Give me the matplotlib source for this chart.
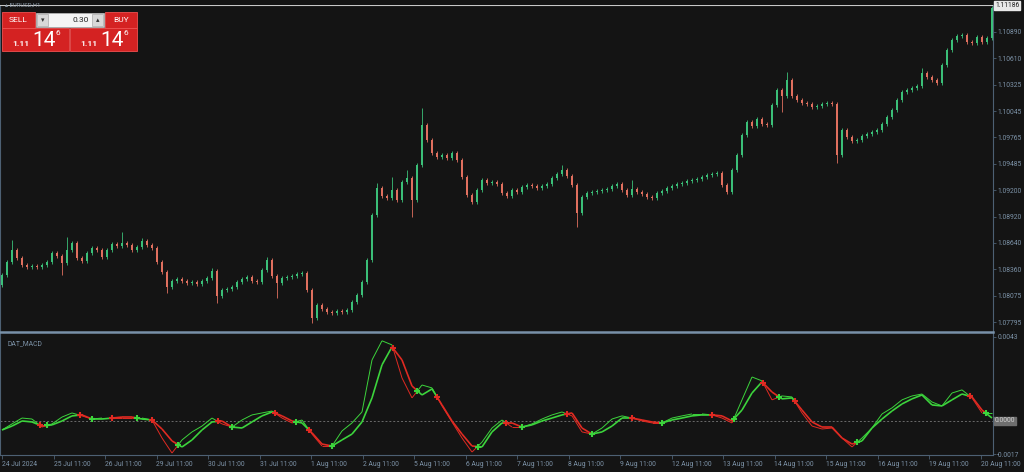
import numpy as np
import matplotlib
matplotlib.use("Agg")
import matplotlib.pyplot as plt
from matplotlib.patches import Rectangle
from matplotlib.collections import LineCollection

# ---- price data (one candle every ~5 px of the original) ----
first_open = 1.08190
closes = [
	1.08297, 1.08436, 1.08564, 1.08478, 1.08403, 1.08382, 1.08393, 1.08382, 1.08403, 1.08436,
	1.08532, 1.08500, 1.08425, 1.08564, 1.08638, 1.08478, 1.08446, 1.08532, 1.08585, 1.08564,
	1.08489, 1.08564, 1.08628, 1.08606, 1.08638, 1.08617, 1.08564, 1.08596, 1.08660, 1.08617,
	1.08585, 1.08436, 1.08329, 1.08169, 1.08233, 1.08254, 1.08233, 1.08211, 1.08222, 1.08201,
	1.08233, 1.08265, 1.08339, 1.08073, 1.08137, 1.08147, 1.08169, 1.08222, 1.08254, 1.08275,
	1.08233, 1.08222, 1.08350, 1.08457, 1.08286, 1.08211, 1.08265, 1.08275, 1.08286, 1.08307,
	1.08318, 1.08137, 1.07838, 1.07977, 1.07934, 1.07902, 1.07891, 1.07913, 1.07902, 1.07923,
	1.08009, 1.08083, 1.08222, 1.08457, 1.08937, 1.09225, 1.09140, 1.09118, 1.09204, 1.09097,
	1.09289, 1.09332, 1.09097, 1.09470, 1.09897, 1.09737, 1.09599, 1.09556, 1.09577, 1.09545,
	1.09599, 1.09524, 1.09342, 1.09150, 1.09076, 1.09204, 1.09310, 1.09278, 1.09289, 1.09268,
	1.09172, 1.09140, 1.09204, 1.09182, 1.09236, 1.09257, 1.09246, 1.09225, 1.09246, 1.09268,
	1.09332, 1.09374, 1.09417, 1.09353, 1.09257, 1.08958, 1.09129, 1.09172, 1.09182, 1.09193,
	1.09204, 1.09214, 1.09246, 1.09268, 1.09204, 1.09150, 1.09214, 1.09182, 1.09161, 1.09129,
	1.09118, 1.09172, 1.09193, 1.09225, 1.09246, 1.09268, 1.09278, 1.09300, 1.09310, 1.09321,
	1.09342, 1.09364, 1.09374, 1.09385, 1.09257, 1.09182, 1.09417, 1.09577, 1.09791, 1.09929,
	1.09887, 1.09961, 1.09908, 1.09897, 1.10111, 1.10271, 1.10207, 1.10377, 1.10207, 1.10164,
	1.10132, 1.10121, 1.10089, 1.10100, 1.10121, 1.10132, 1.10121, 1.09577, 1.09844, 1.09769,
	1.09727, 1.09737, 1.09780, 1.09801, 1.09823, 1.09844, 1.09908, 1.09983, 1.10057, 1.10164,
	1.10249, 1.10271, 1.10292, 1.10313, 1.10452, 1.10409, 1.10377, 1.10345, 1.10537, 1.10698,
	1.10804, 1.10847, 1.10858, 1.10783, 1.10772, 1.10836, 1.10783, 1.10826, 1.11146,
]
# long wicks that stick out of the bodies
spike_high = {2: 1.08670, 13: 1.08702, 24: 1.08756, 28: 1.08692, 42: 1.08371, 53: 1.08489,
	75: 1.09278, 78: 1.09342, 81: 1.09417, 84: 1.10079, 112: 1.09470, 126: 1.09310,
	157: 1.10463, 184: 1.10505}
spike_low = {12: 1.08297, 33: 1.08105, 43: 1.07998, 55: 1.08051, 62: 1.07785, 82: 1.08916,
	115: 1.08809, 156: 1.10036, 167: 1.09492}
bid_price = 1.11186

# ---- DAT_MACD (one value every second candle) ----
macd_main = [
	-0.00046, -0.00015, 0.00015, 0.00010, -0.00031, -0.00015, 0.00020, 0.00041, 0.00026, 0.00010,
	0.00015, 0.00015, 0.00015, 0.00015, 0.00015, 0.00005, -0.00087, -0.00164, -0.00097, -0.00056,
	-0.00026, 0.00015, -0.00015, -0.00031, 0.00005, 0.00031, 0.00041, 0.00051, 0.00015, -0.00010,
	0.00005, -0.00067, -0.00128, -0.00128, -0.00051, -0.00010, 0.00046, 0.00312, 0.00410, 0.00389,
	0.00220, 0.00118, 0.00184, 0.00169, 0.00077, -0.00005, -0.00087, -0.00159, -0.00108, -0.00036,
	0.00005, -0.00031, -0.00031, -0.00015, 0.00010, 0.00031, 0.00046, 0.00026, -0.00056, -0.00067,
	-0.00036, 0.00010, 0.00026, 0.00015, 0.00000, -0.00010, -0.00010, 0.00015, 0.00026, 0.00036,
	0.00036, 0.00031, 0.00015, -0.00010, 0.00108, 0.00225, 0.00205, 0.00108, 0.00128, 0.00123,
	0.00041, -0.00026, -0.00041, -0.00036, -0.00087, -0.00133, -0.00087, -0.00036, 0.00036, 0.00067,
	0.00108, 0.00128, 0.00138, 0.00097, 0.00077, 0.00143, 0.00159, 0.00118, 0.00041, 0.00041,
]
macd_signal = [
	-0.00046, -0.00026, 0.00000, -0.00005, -0.00026, -0.00020, 0.00000, 0.00026, 0.00031, 0.00010,
	0.00010, 0.00015, 0.00020, 0.00020, 0.00010, 0.00005, -0.00041, -0.00102, -0.00133, -0.00097,
	-0.00046, -0.00005, 0.00000, -0.00031, -0.00036, -0.00005, 0.00026, 0.00046, 0.00026, 0.00000,
	-0.00010, -0.00061, -0.00118, -0.00128, -0.00097, -0.00067, -0.00005, 0.00118, 0.00287, 0.00379,
	0.00312, 0.00179, 0.00133, 0.00164, 0.00082, 0.00000, -0.00067, -0.00128, -0.00133, -0.00056,
	-0.00010, -0.00010, -0.00031, -0.00020, 0.00000, 0.00015, 0.00031, 0.00041, -0.00036, -0.00067,
	-0.00056, -0.00026, 0.00015, 0.00015, 0.00005, -0.00005, -0.00010, 0.00005, 0.00015, 0.00026,
	0.00031, 0.00031, 0.00026, 0.00000, 0.00056, 0.00143, 0.00200, 0.00148, 0.00113, 0.00118,
	0.00056, -0.00005, -0.00031, -0.00031, -0.00087, -0.00118, -0.00102, -0.00036, 0.00010, 0.00051,
	0.00087, 0.00113, 0.00133, 0.00082, 0.00077, 0.00108, 0.00138, 0.00123, 0.00056, 0.00015,
]

price_ticks = [1.10890, 1.10610, 1.10325, 1.10045, 1.09765, 1.09485, 1.09200,
	1.08920, 1.08640, 1.08360, 1.08075, 1.07795]
macd_ticks = [0.0043, -0.0017]
date_labels = ["24 Jul 2024", "25 Jul 11:00", "26 Jul 11:00", "29 Jul 11:00", "30 Jul 11:00",
	"31 Jul 11:00", "1 Aug 11:00", "2 Aug 11:00", "5 Aug 11:00", "6 Aug 11:00",
	"7 Aug 11:00", "8 Aug 11:00", "9 Aug 11:00", "12 Aug 11:00", "13 Aug 11:00",
	"14 Aug 11:00", "15 Aug 11:00", "16 Aug 11:00", "19 Aug 11:00", "20 Aug 11:00"]
candles_per_day = 10.3

BG = "#141414"
AXC = "#4d6073"
TXT = "#7d93a8"
UP = "#3bbf78"
DOWN = "#e0705f"
GREEN = "#3cd43c"
RED = "#e02a22"
FONT = ["Roboto", "DejaVu Sans"]
FS = 4.9

W, H = 1024, 472
fig = plt.figure(figsize=(W / 100, H / 100), dpi=100, facecolor=BG)

def px_axes(left, top, right, bottom):
	return fig.add_axes([left / W, 1 - bottom / H, (right - left) / W, (bottom - top) / H])

ax = px_axes(0, 5, 993, 332)
ax2 = px_axes(0, 332, 993, 455)

for a in (ax, ax2):
	a.set_facecolor(BG)
	for s in a.spines.values():
		s.set_color(AXC)
	a.spines['top'].set_visible(False)
	a.yaxis.tick_right()
	a.tick_params(axis='y', colors=AXC, labelcolor=TXT, labelsize=FS, length=2, width=0.6, pad=1)
	for lab in a.get_yticklabels():
		lab.set_fontfamily(FONT)

ax.spines['bottom'].set_visible(False)
ax2.spines['top'].set_visible(True)
ax2.spines['top'].set_color("#7890a8")
ax2.spines['top'].set_linewidth(1.8)

# ---- candles ----
c = np.array(closes)
o = np.concatenate([[first_open], c[:-1]])
n = len(c)
idx = np.arange(n)
hi = np.maximum(o, c) + 0.00025
lo = np.minimum(o, c) - 0.00025
for k, v in spike_high.items():
	hi[k] = max(hi[k], v)
for k, v in spike_low.items():
	lo[k] = min(lo[k], v)
cols = np.where(c >= o, UP, DOWN)
body = np.maximum(np.abs(c - o), 0.00004)
ax.vlines(idx, lo, hi, colors=cols, linewidth=0.6, zorder=2)
ax.bar(idx, body, bottom=np.minimum(o, c), width=0.42, color=cols, linewidth=0, zorder=3)

y_top = 1.11178
ax.set_xlim(-0.4, 198.2)
ax.set_ylim(1.07689, y_top)
ax.set_yticks(price_ticks)
ax.set_yticklabels(["%.5f" % p for p in price_ticks])
ax.set_xticks([])
ax.axhline(y_top - 0.00004, color="#c8c8c8", linewidth=0.8, zorder=4)
ax.text(1.002, y_top - 0.00004, "%.5f" % bid_price, transform=ax.get_yaxis_transform(),
	ha='left', va='center', fontsize=FS, family=FONT, color="#202020",
	bbox=dict(boxstyle='square,pad=0.12', fc="#e8e8e8", ec="#e8e8e8"), clip_on=False)

# ---- MACD panel ----
mx = np.arange(0, n, 2)[:len(macd_main)].astype(float)
m = np.array(macd_main)
s = np.array(macd_signal)
d = m - s

segs_m, segs_s, seg_cols = [], [], []
buy_pts, sell_pts = [], []
state = 1 if d[0] >= 0 else -1
for i in range(len(mx) - 1):
	x0, x1 = mx[i], mx[i + 1]
	nxt = state if d[i + 1] == 0 else (1 if d[i + 1] > 0 else -1)
	if nxt != state and d[i] != d[i + 1]:
		t = d[i] / (d[i] - d[i + 1])
		t = min(max(t, 0), 1)
		xc = x0 + t * (x1 - x0)
		mc = m[i] + t * (m[i + 1] - m[i])
		sc = s[i] + t * (s[i + 1] - s[i])
		segs_m.append([(x0, m[i]), (xc, mc)])
		segs_s.append([(x0, s[i]), (xc, sc)])
		seg_cols.append(GREEN if state > 0 else RED)
		segs_m.append([(xc, mc), (x1, m[i + 1])])
		segs_s.append([(xc, sc), (x1, s[i + 1])])
		seg_cols.append(GREEN if nxt > 0 else RED)
		(buy_pts if nxt > 0 else sell_pts).append((xc, sc))
	else:
		segs_m.append([(x0, m[i]), (x1, m[i + 1])])
		segs_s.append([(x0, s[i]), (x1, s[i + 1])])
		seg_cols.append(GREEN if state > 0 else RED)
	state = nxt

ax2.add_collection(LineCollection(segs_m, colors=seg_cols, linewidths=0.7, zorder=3))
ax2.add_collection(LineCollection(segs_s, colors=seg_cols, linewidths=1.2, zorder=3))
if buy_pts:
	bx, by = zip(*buy_pts)
	ax2.plot(bx, by, '+', color=GREEN, markersize=5, markeredgewidth=1.5, zorder=4)
if sell_pts:
	sx, sy = zip(*sell_pts)
	ax2.plot(sx, sy, '+', color=RED, markersize=5, markeredgewidth=1.5, zorder=4)

ax2.axhline(0, color="#6a6a6a", linewidth=0.7, linestyle=(0, (2, 2)), zorder=1)
ax2.set_xlim(-0.4, 198.2)
ax2.set_ylim(-0.00174, 0.00455)
ax2.set_yticks(macd_ticks)
ax2.set_yticklabels(["%.4f" % v for v in macd_ticks])
ax2.text(1.002, 0, "0.0000", transform=ax2.get_yaxis_transform(), ha='left', va='center',
	fontsize=FS, family=FONT, color="#d0d0d0",
	bbox=dict(boxstyle='square,pad=0.12', fc="#6e6e6e", ec="#6e6e6e"), clip_on=False)
ax2.text(0.008, 0.93, "DAT_MACD", transform=ax2.transAxes, ha='left', va='top',
	fontsize=FS, family=FONT, color=TXT)

xt = [k * candles_per_day for k in range(len(date_labels))]
ax2.set_xticks(xt)
ax2.set_xticklabels(date_labels)
ax2.tick_params(axis='x', colors=AXC, labelcolor=TXT, labelsize=FS, length=3, width=0.6, pad=1)
for lab in ax2.get_xticklabels():
	lab.set_fontfamily(FONT)
	lab.set_horizontalalignment('left')

# ---- one-click trading widget and symbol label ----
ov = fig.add_axes([0, 0, 1, 1], zorder=10)
ov.set_xlim(0, W)
ov.set_ylim(H, 0)
ov.axis('off')
ov.patch.set_alpha(0)

ov.text(5, 5, "\u25b4 EURUSD,H1", fontsize=4.3, family=FONT, color="#8c9aa8", va='center')
red = "#d42222"
for (x, y, w, h) in [(2, 12, 33, 16), (105, 12, 32, 16), (2, 28, 67, 23), (70, 28, 67, 23)]:
	ov.add_patch(Rectangle((x, y), w, h, facecolor=red, edgecolor="#f05050", linewidth=0.6))
ov.add_patch(Rectangle((36, 13), 68, 14, facecolor="#f4f4f4", edgecolor="#bbbbbb", linewidth=0.5))
ov.add_patch(Rectangle((37, 14), 11, 12, facecolor="#d8d8d8", edgecolor="#aaaaaa", linewidth=0.5))
ov.add_patch(Rectangle((92, 14), 11, 12, facecolor="#d8d8d8", edgecolor="#aaaaaa", linewidth=0.5))
ov.text(42.5, 20, "\u25be", fontsize=5, family=["DejaVu Sans"], color="#333333", ha='center', va='center')
ov.text(97.5, 20, "\u25b4", fontsize=5, family=["DejaVu Sans"], color="#333333", ha='center', va='center')
ov.text(89, 20, "0.30", fontsize=6, family=FONT, color="#222222", ha='right', va='center')
ov.text(18, 20, "SELL", fontsize=6, family=FONT, color="#ffffff", ha='center', va='center')
ov.text(121, 20, "BUY", fontsize=6, family=FONT, color="#ffffff", ha='center', va='center')
for x0 in (12, 80):
	ov.text(x0, 44, "1.11", fontsize=6, family=FONT, weight='bold', color="#ffffff", va='center')
	ov.text(x0 + 20, 40, "14", fontsize=15, family=FONT, color="#ffffff", va='center')
	ov.text(x0 + 43, 33, "6", fontsize=6, family=FONT, color="#ffffff", va='center')

fig.savefig("out.png", dpi=100, facecolor=BG)
